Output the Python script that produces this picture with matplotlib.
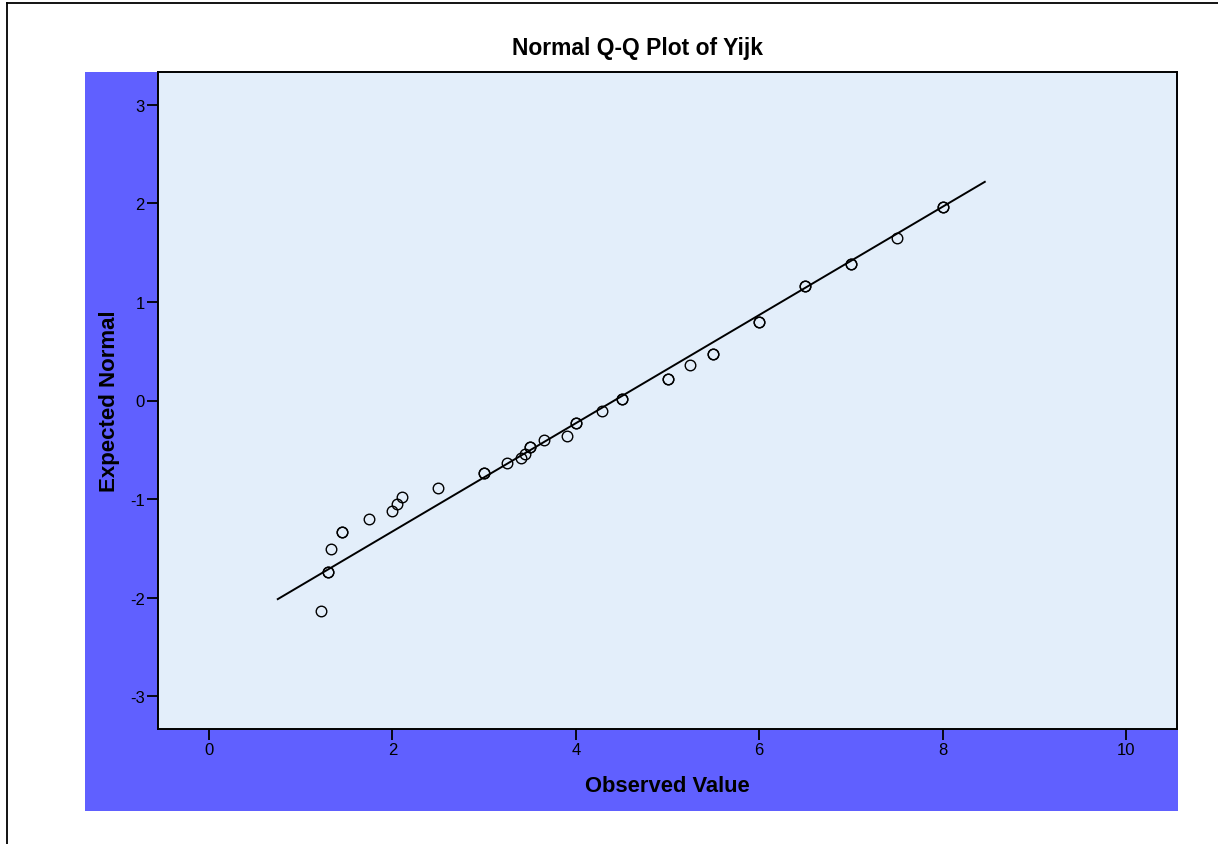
import matplotlib
matplotlib.use("Agg")
import matplotlib.pyplot as plt
from matplotlib.lines import Line2D
from matplotlib.patches import Rectangle
import numpy as np

plt.rcParams['font.family'] = ['Liberation Sans', 'DejaVu Sans']
plt.rcParams['axes.unicode_minus'] = False

# Data
observed = [1.22, 1.30, 1.33, 1.45, 1.75, 2.00, 2.05, 2.10, 2.50, 3.00,
            3.25, 3.40, 3.45, 3.50, 3.65, 3.90, 4.00, 4.29, 4.50, 5.00,
            5.25, 5.50, 6.00, 6.50, 7.00, 7.50, 8.00]
expected = [-2.134, -1.738, -1.508, -1.338, -1.203, -1.122, -1.051, -0.976, -0.885, -0.738,
            -0.638, -0.587, -0.543, -0.469, -0.401, -0.357, -0.225, -0.107, 0.020, 0.223,
            0.357, 0.469, 0.797, 1.159, 1.389, 1.650, 1.964]
ties = [1, 2, 1, 2, 1, 1, 1, 1, 1, 2,
        1, 1, 1, 2, 1, 1, 2, 1, 2, 2,
        1, 2, 2, 2, 2, 1, 2]
line_mean = 4.42
line_sd = 1.82
line_xrange = [0.75, 8.46]

xticks = [0, 2, 4, 6, 8, 10]
yticks = [-3, -2, -1, 0, 1, 2, 3]

W, H = 1218, 845
fig = plt.figure(figsize=(W / 100, H / 100), dpi=100)
fig.patch.set_facecolor('white')

# blue band behind axes
fig.patches.append(Rectangle((85 / W, 1 - 812 / H), (1178 - 85) / W, (812 - 73) / H,
                             transform=fig.transFigure, facecolor='#6060FF',
                             edgecolor='none', zorder=0))
# outer border (left and top)
fig.add_artist(Line2D([7 / W, 7 / W], [0, 1 - 4 / H], transform=fig.transFigure,
                      color='black', lw=1.3))
fig.add_artist(Line2D([7 / W, 1], [1 - 4 / H, 1 - 4 / H], transform=fig.transFigure,
                      color='black', lw=1.3))

ax = fig.add_axes([158 / W, 1 - 730 / H, (1177 - 158) / W, (730 - 73) / H])
ax.set_facecolor('#E3EEFA')
ax.set_zorder(2)

for xv, yv, t in zip(observed, expected, ties):
    for _ in range(t):
        ax.plot(xv, yv, 'o', markersize=7.6, markerfacecolor='none',
                markeredgecolor='black', markeredgewidth=1.0, zorder=3)

lx = np.array(line_xrange)
ax.plot(lx, (lx - line_mean) / line_sd, color='black', lw=1.4, zorder=2)

ax.set_xlim(-0.556, 10.556)
ax.set_ylim(-3.335, 3.335)
ax.set_xticks(xticks)
ax.set_yticks(yticks)
ax.tick_params(direction='out', length=8, width=1.3, labelsize=12, color='black', pad=1.5)
for s in ax.spines.values():
    s.set_linewidth(1.4)
    s.set_color('black')

fig.text(637 / W, 1 - 48 / H, 'Normal Q-Q Plot of Yijk', ha='center', va='center',
         fontsize=16.5, fontweight='bold')
fig.text(667 / W, 1 - 787 / H, 'Observed Value', ha='center', va='center',
         fontsize=15.8, fontweight='bold')
fig.text(110 / W, 1 - 401 / H, 'Expected Normal', ha='center', va='center',
         fontsize=16, fontweight='bold', rotation=90)

fig.savefig('out.png', dpi=100)
